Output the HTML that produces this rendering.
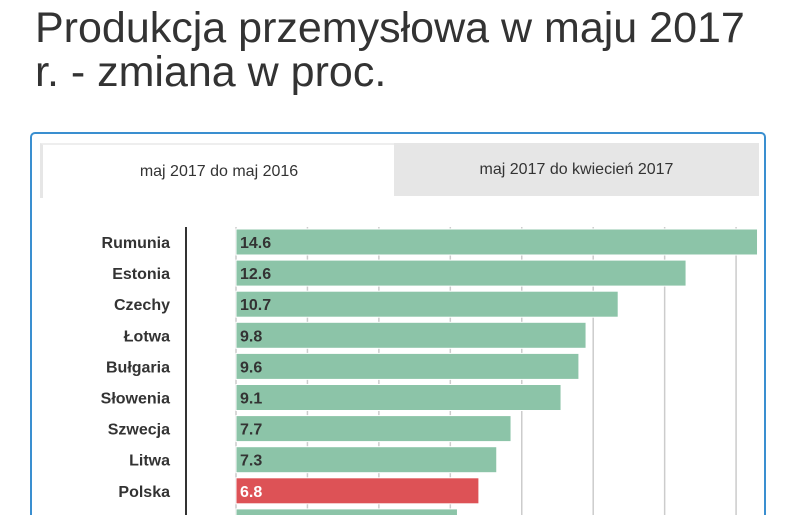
<!DOCTYPE html>
<html style="overflow:hidden;height:515px"><head><meta charset="utf-8"><style>
body{margin:0;width:805px;height:515px;overflow:hidden;background:#fff;font-family:"Liberation Sans",sans-serif;position:relative}
#title{position:absolute;left:35px;top:6px;font-size:43px;line-height:44px;color:#333;margin:0;font-weight:normal;white-space:nowrap}
#panel{position:absolute;left:30px;top:132px;width:732px;height:381px;border:2px solid #3a8fd0;border-bottom:none;border-radius:5px 5px 0 0;}
.tab{position:absolute;top:9px;height:53px;font-size:16px;color:#333;display:flex;align-items:center;justify-content:center;font-weight:500}
svg{position:absolute;left:0;top:0}
</style></head><body>
<h1 id="title">Produkcja przemysłowa w maju 2017<br>r. - zmiana w proc.</h1>
<div id="panel">
<div class="tab" style="left:8px;width:352px;background:#fff;border-top:2px solid #eee;border-left:3px solid #e6e6e6">maj 2017 do maj 2016</div>
<div class="tab" style="left:362px;width:365px;background:#e6e6e6">maj 2017 do kwiecień 2017</div>
</div>
<svg id="chart" width="805" height="515"></svg>
<script>
const categories=["Rumunia","Estonia","Czechy","Łotwa","Bułgaria","Słowenia","Szwecja","Litwa","Polska","Węgry"];
const values=[14.6,12.6,10.7,9.8,9.6,9.1,7.7,7.3,6.8,6.2];
const highlight=["Polska"];
const ticks=[0,2,4,6,8,10,12,14];
const NS="http://www.w3.org/2000/svg";
const svg=document.getElementById('chart');
const x=v=>236+v*35.72;
const y=i=>242+i*31.1;
function mk(t,a){const e=document.createElementNS(NS,t);for(const k in a)e.setAttribute(k,a[k]);svg.appendChild(e);return e;}
ticks.forEach(t=>{const l=mk('line',{x1:x(t),x2:x(t),y1:227,y2:515,stroke:'#ccc','stroke-width':1.5});

});
const ax=mk('line',{x1:186,x2:186,y1:227,y2:515,stroke:'#333','stroke-width':2});


categories.forEach((c,i)=>{
const hl=highlight.includes(c);
const r=mk('rect',{x:236,y:y(i)-13,width:x(values[i])-236,height:26,fill:hl?'#dd5256':'#8cc4a8',stroke:'#fff','stroke-width':1});


const lb=mk('text',{x:170,y:y(i)+6,'text-anchor':'end','font-size':16,fill:'#333','font-weight':'bold','font-family':'Liberation Sans Narrow, Liberation Sans, sans-serif'});
lb.textContent=c;


const vt=mk('text',{x:240,y:y(i)+6,'font-size':16,fill:hl?'#fff':'#333','font-weight':'bold'});
vt.textContent=values[i].toFixed(1);


});
</script>
</body></html>
